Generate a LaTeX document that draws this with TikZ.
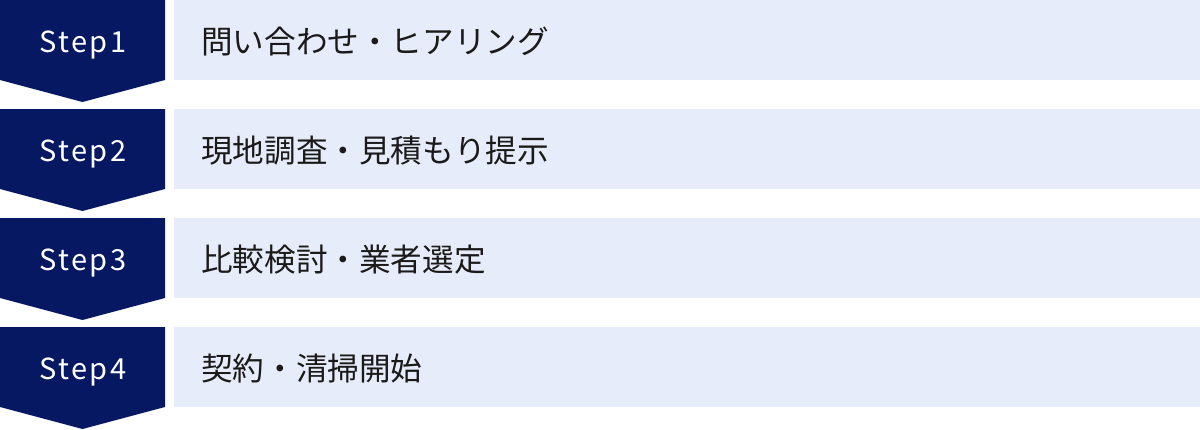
\documentclass[tikz,border=0pt]{standalone}
\usepackage{fontspec}
\setmainfont{Noto Sans CJK JP}
\definecolor{navy}{HTML}{061862}
\definecolor{paleblue}{HTML}{E6ECF9}
\definecolor{ink}{HTML}{1A1A1A}
\tikzset{
  steplabel/.style={anchor=base, inner sep=0pt, text=white,
    font=\fontsize{29}{34}\selectfont\addfontfeature{LetterSpace=8}},
  itemlabel/.style={anchor=base west, inner sep=0pt, text=ink,
    font=\fontsize{31.6}{36}\selectfont}
}
\begin{document}
\begin{tikzpicture}[x=1pt,y=-1pt]
            \useasboundingbox (0,0) rectangle (1200,429);

            % Step1
            \fill[navy] (0,0) -- (165,0) -- (165,80) -- (82.5,102) -- (0,80) -- cycle;
            \fill[paleblue] (174,0) rectangle (1200,80);
            \node[steplabel] (s1) at (83,52) {Step1};
            \node[itemlabel] (t1) at (201,53) {問い合わせ・ヒアリング};

            % Step2
            \fill[navy] (0,109) -- (165,109) -- (165,189) -- (82.5,211) -- (0,189) -- cycle;
            \fill[paleblue] (174,109) rectangle (1200,189);
            \node[steplabel] (s2) at (83,161) {Step2};
            \node[itemlabel] (t2) at (201,162) {現地調査・見積もり提示};

            % Step3
            \fill[navy] (0,218) -- (165,218) -- (165,298) -- (82.5,320) -- (0,298) -- cycle;
            \fill[paleblue] (174,218) rectangle (1200,298);
            \node[steplabel] (s3) at (83,270) {Step3};
            \node[itemlabel] (t3) at (201,271) {比較検討・業者選定};

            % Step4
            \fill[navy] (0,327) -- (165,327) -- (165,407) -- (82.5,429) -- (0,407) -- cycle;
            \fill[paleblue] (174,327) rectangle (1200,407);
            \node[steplabel] (s4) at (83,379) {Step4};
            \node[itemlabel] (t4) at (201,380) {契約・清掃開始};
\end{tikzpicture}
\end{document}
